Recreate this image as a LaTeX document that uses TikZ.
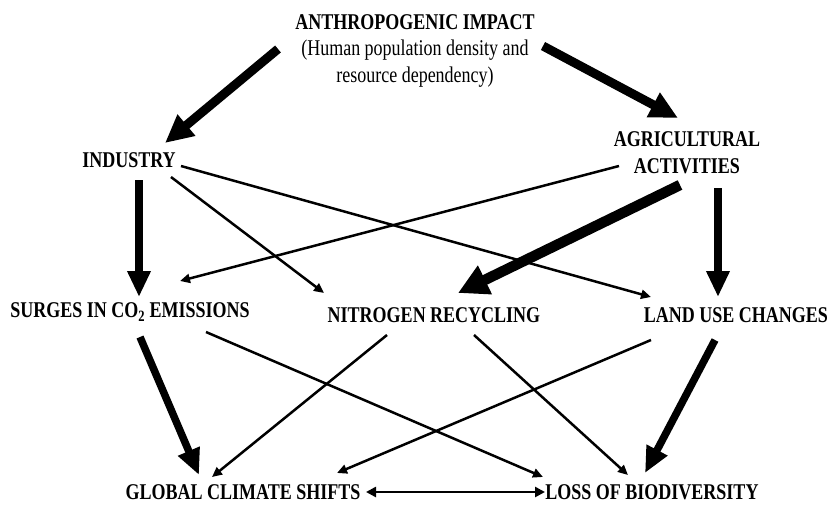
\documentclass[tikz,border=0pt]{standalone}
\usepackage{fontspec}
\setmainfont{Liberation Serif}[FakeStretch=0.8]
\usetikzlibrary{arrows.meta}
\tikzset{
  lbl/.style={inner sep=0pt, font=\fontsize{22.5}{27}\selectfont\bfseries, align=center},
  thin/.style={line width=2.5pt, -{Triangle[length=10pt,width=9pt]}},
  thickarr/.style={line width=7.5pt, -{Triangle[length=26pt,width=22pt]}},
  heavyarr/.style={line width=9pt, -{Triangle[length=28pt,width=26pt]}},
  heaviest/.style={line width=10.5pt, -{Triangle[length=30pt,width=30pt]}},
  both/.style={line width=2.5pt, {Triangle[length=10pt,width=10pt]}-{Triangle[length=10pt,width=10pt]}}
}
\begin{document}
\begin{tikzpicture}[x=1pt,y=-1pt]
\useasboundingbox (0,0) rectangle (831,504);
\node[lbl] (anth) at (415,51) {ANTHROPOGENIC IMPACT\\[-1pt]{\mdseries (Human population density and}\\{\mdseries resource dependency)}};
\node[lbl] (ind) at (129,160) {INDUSTRY};
\node[lbl] (agri) at (687,153) {AGRICULTURAL\\ACTIVITIES};
\node[lbl] (surg) at (130,312) {SURGES IN CO\textsubscript{2} EMISSIONS};
\node[lbl] (nit) at (434,315) {NITROGEN RECYCLING};
\node[lbl] (land) at (736,315) {LAND USE CHANGES};
\node[lbl] (glob) at (243,492) {GLOBAL CLIMATE SHIFTS};
\node[lbl] (loss) at (652,492) {LOSS OF BIODIVERSITY};

\draw[heavyarr] ([shift={(-137,-2)}]anth.center) -- ([shift={(36,-17)}]ind.center);
\draw[heavyarr] ([shift={(128,-5)}]anth.center) -- ([shift={(-9,-35)}]agri.center);
\draw[thickarr] ([shift={(10,20)}]ind.center) -- ([shift={(9,-15)}]surg.center);
\draw[thin] ([shift={(42,17)}]ind.center) -- ([shift={(-110,-22)}]nit.center);
\draw[thin] ([shift={(52,6)}]ind.center) -- ([shift={(-85,-18)}]land.center);
\draw[thin] ([shift={(-68,13)}]agri.center) -- ([shift={(50,-31)}]surg.center);
\draw[heaviest] ([shift={(-7,32)}]agri.center) -- ([shift={(24,-22)}]nit.center);
\draw[thickarr] ([shift={(31,35)}]agri.center) -- ([shift={(-18,-18)}]land.center);
\draw[thickarr] ([shift={(10,25)}]surg.center) -- ([shift={(-44,-17)}]glob.center);
\draw[thin] ([shift={(76,20)}]surg.center) -- ([shift={(-109,-15)}]loss.center);
\draw[thin] ([shift={(-47,20)}]nit.center) -- ([shift={(-31,-15)}]glob.center);
\draw[thin] ([shift={(40,20)}]nit.center) -- ([shift={(-24,-17)}]loss.center);
\draw[thin] ([shift={(-85,25)}]land.center) -- ([shift={(94,-19)}]glob.center);
\draw[thickarr] ([shift={(-21,25)}]land.center) -- ([shift={(-7,-19)}]loss.center);
\draw[both] ([shift={(123,0)}]glob.center) -- ([shift={(-107,0)}]loss.center);
\end{tikzpicture}
\end{document}
